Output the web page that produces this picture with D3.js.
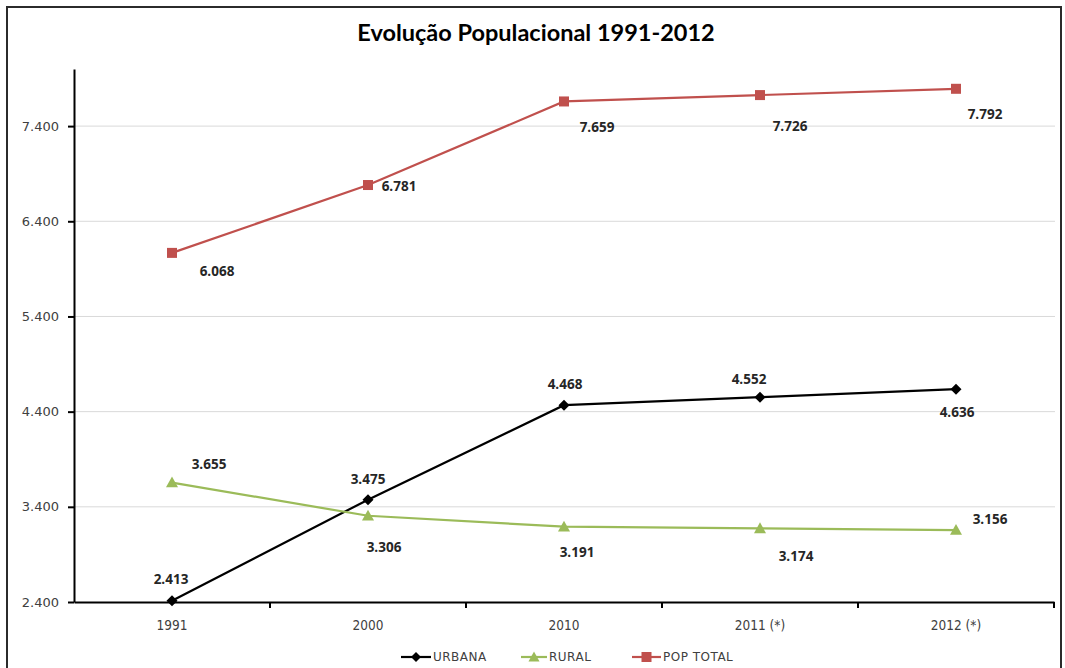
<!DOCTYPE html>
<html><head><meta charset="utf-8">
<script src="https://cdn.jsdelivr.net/npm/d3@7/dist/d3.min.js"></script>
<style>body{margin:0;background:#fff}svg{display:block}</style>
</head><body>
<svg id="c" width="1065" height="668"></svg>
<script>
const categories = ["1991", "2000", "2010", "2011 (*)", "2012 (*)"];
const urbana = [2413, 3475, 4468, 4552, 4636];
const rural = [3655, 3306, 3191, 3174, 3156];
const popTotal = [6068, 6781, 7659, 7726, 7792];
const yTicks = [2400, 3400, 4400, 5400, 6400, 7400];
const title = "Evolução Populacional 1991-2012";

// label offsets (style config)
const offUrb = [[-1,-21],[0,-20],[1,-21],[-11,-18],[1,23]];
const offRur = [[37,-18],[16,32],[13,26],[36,28],[34,-11]];
const offPop = [[45,18],[31,1],[33,26],[30,31],[29,25]];

const series = [
  {name:"URBANA", values:urbana, color:"#000000", marker:"diamond", off:offUrb},
  {name:"RURAL", values:rural, color:"#9BBB59", marker:"triangle", off:offRur},
  {name:"POP TOTAL", values:popTotal, color:"#C0504D", marker:"square", off:offPop}
];

const svg = d3.select("#c");
const fmt3 = v => (v/1000).toFixed(3);

svg.append("rect").attr("x",7).attr("y",7).attr("width",1054).attr("height",680)
  .attr("fill","#fff").attr("stroke","#2b2b2b").attr("stroke-width",2);

svg.append("text").attr("x",536).attr("y",41).attr("text-anchor","middle")
  .attr("font-family","Lato, 'Open Sans', sans-serif").attr("font-weight","bold")
  .attr("font-size",23.5).attr("fill","#000").text(title);

const x = d3.scaleBand().domain(categories).range([74, 1054]);
const y = d3.scaleLinear().domain([2400, 8000]).range([602, 69]);

// grid
svg.append("g").selectAll("line").data(yTicks.slice(1)).join("line")
  .attr("x1",74).attr("x2",1055).attr("y1",d=>y(d)).attr("y2",d=>y(d))
  .attr("stroke","#d9d9d9").attr("stroke-width",1);

// y axis
const yAxis = svg.append("g").attr("transform","translate(74,0)")
  .call(d3.axisLeft(y).tickValues(yTicks).tickSize(6).tickSizeOuter(0).tickFormat(fmt3).tickPadding(9));
yAxis.select(".domain").attr("stroke","#000").attr("stroke-width",2);
yAxis.selectAll(".tick line").attr("stroke","#000").attr("stroke-width",2);
yAxis.selectAll("text").attr("font-family","Verdana, 'DejaVu Sans', sans-serif")
  .attr("font-size",13).attr("fill","#404040");

// x axis
const xAxis = svg.append("g").attr("transform","translate(0,602)")
  .call(d3.axisBottom(x).tickSize(0).tickSizeOuter(0).tickPadding(18));
xAxis.select(".domain").attr("stroke","#000").attr("stroke-width",2);
xAxis.selectAll("text").attr("font-family","'Liberation Sans Narrow', 'DejaVu Sans Condensed', sans-serif")
  .attr("font-size",13.5).attr("fill","#404040");
// category boundary ticks
const bounds = categories.map(c => x(c) + x.bandwidth());
svg.append("g").selectAll("line").data(bounds).join("line")
  .attr("x1",d=>d).attr("x2",d=>d).attr("y1",602).attr("y2",608)
  .attr("stroke","#000").attr("stroke-width",2);

const cx = c => x(c) + x.bandwidth()/2;

function drawMarker(g, type, color, px, py, s) {
  if (type === "diamond") {
    g.append("path").attr("d", `M${px},${py-s}L${px+s},${py}L${px},${py+s}L${px-s},${py}Z`).attr("fill", color);
  } else if (type === "triangle") {
    g.append("path").attr("d", `M${px},${py-s}L${px+s},${py+s*0.8}L${px-s},${py+s*0.8}Z`).attr("fill", color);
  } else {
    g.append("rect").attr("x",px-s).attr("y",py-s).attr("width",2*s).attr("height",2*s).attr("fill",color);
  }
}

const line = d3.line().x((d,i)=>cx(categories[i])).y(d=>y(d));
series.forEach(s => {
  const g = svg.append("g");
  g.append("path").datum(s.values).attr("d", line).attr("fill","none")
    .attr("stroke", s.color).attr("stroke-width", 2.2);
  s.values.forEach((v,i) => {
    drawMarker(g, s.marker, s.color, cx(categories[i]), y(v), s.marker==="square"?5:s.marker==="triangle"?6:5.5);
  });
  g.selectAll("text").data(s.values).join("text")
    .attr("x",(d,i)=>cx(categories[i]) + s.off[i][0])
    .attr("y",(d,i)=>y(d) + s.off[i][1])
    .attr("dy","0.35em").attr("text-anchor","middle")
    .attr("font-family","'Open Sans', 'DejaVu Sans', sans-serif").attr("font-weight","bold")
    .attr("font-size",13.5).attr("fill","#262626").text(d=>fmt3(d));
});

// legend
const legend = [{x:401, tx:433}, {x:521, tx:549}, {x:632, tx:663}];
series.forEach((s,i) => {
  const L = legend[i];
  const g = svg.append("g");
  g.append("line").attr("x1",L.x).attr("x2",L.tx-2).attr("y1",657).attr("y2",657)
    .attr("stroke",s.color).attr("stroke-width",2.2);
  drawMarker(g, s.marker, s.color, (L.x+L.tx-2)/2, 657, s.marker==="square"?5:s.marker==="triangle"?5.5:5);
  g.append("text").attr("x",L.tx).attr("y",657).attr("dy","0.35em")
    .attr("font-family","Verdana, 'DejaVu Sans', sans-serif").attr("font-size",12)
    .attr("fill","#404040").attr("letter-spacing",0.5).text(s.name);
});
</script>
</body></html>
